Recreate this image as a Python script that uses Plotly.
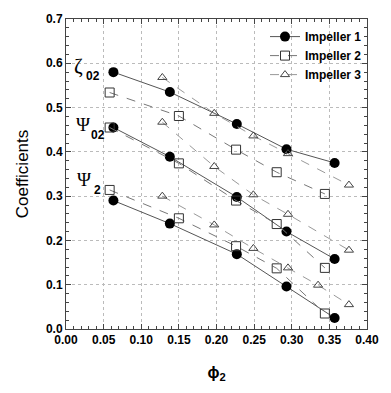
import plotly.graph_objects as go

# ---- data ----
phi_imp1 = [0.063, 0.138, 0.227, 0.293, 0.357]
zeta02_imp1 = [0.580, 0.535, 0.463, 0.406, 0.375]
psi02_imp1 = [0.455, 0.389, 0.298, 0.220, 0.158]
psi2_imp1 = [0.290, 0.238, 0.169, 0.096, 0.025]

phi_imp2 = [0.058, 0.150, 0.226, 0.280, 0.344]
zeta02_imp2 = [0.534, 0.481, 0.405, 0.354, 0.305]
psi02_imp2 = [0.455, 0.374, 0.290, 0.237, 0.138]
psi2_imp2 = [0.314, 0.250, 0.187, 0.137, 0.035]

phi_imp3 = [0.128, 0.197, 0.249, 0.295, 0.376]
zeta02_imp3 = [0.568, 0.487, 0.436, 0.396, 0.325]
psi02_imp3 = [0.467, 0.367, 0.303, 0.259, 0.178]
phi_imp3_psi2 = [0.128, 0.197, 0.249, 0.295, 0.335, 0.376]
psi2_imp3 = [0.300, 0.235, 0.182, 0.138, 0.099, 0.055]

series_names = ["Impeller 1", "Impeller 2", "Impeller 3"]
x_ticks = [0.00, 0.05, 0.10, 0.15, 0.20, 0.25, 0.30, 0.35, 0.40]
y_ticks = [0.0, 0.1, 0.2, 0.3, 0.4, 0.5, 0.6, 0.7]

impellers = [
    (series_names[0], [(phi_imp1, zeta02_imp1), (phi_imp1, psi02_imp1), (phi_imp1, psi2_imp1)],
     dict(symbol="circle", size=10, color="black"), dict(color="#555555", width=1, dash="solid")),
    (series_names[1], [(phi_imp2, zeta02_imp2), (phi_imp2, psi02_imp2), (phi_imp2, psi2_imp2)],
     dict(symbol="square-open", size=9, color="#333333", line=dict(width=1)), dict(color="#777777", width=1, dash="dash")),
    (series_names[2], [(phi_imp3, zeta02_imp3), (phi_imp3, psi02_imp3), (phi_imp3_psi2, psi2_imp3)],
     dict(symbol="triangle-up-open", size=8, color="#444444", line=dict(width=1)), dict(color="#999999", width=1, dash="dash")),
]

fig = go.Figure()
for name, groups, marker, line in impellers:
    for i, (xs, ys) in enumerate(groups):
        fig.add_trace(go.Scatter(
            x=xs, y=ys, mode="lines+markers", name=name, legendgroup=name,
            showlegend=(i == 0), marker=marker, line=line,
        ))

font = "Liberation Sans, Arial, sans-serif"
annots = [
    dict(x=0.016, y=0.594, text="ζ", size=21),
    dict(x=0.036, y=0.572, text="02", size=12, bold=True),
    dict(x=0.022, y=0.462, text="Ψ", size=19),
    dict(x=0.043, y=0.438, text="02", size=12, bold=True),
    dict(x=0.024, y=0.338, text="Ψ", size=19),
    dict(x=0.042, y=0.313, text="2", size=12, bold=True),
]
for a in annots:
    t = f"<b>{a['text']}</b>" if a.get("bold") else a["text"]
    fig.add_annotation(x=a["x"], y=a["y"], text=t, showarrow=False, xref="x", yref="y",
                       font=dict(family="Liberation Serif, Times New Roman, serif" if not a.get("bold") else font,
                                 size=a["size"], color="black"))

axis_common = dict(
    showline=True, linecolor="#444444", linewidth=1, mirror="allticks",
    ticks="inside", ticklen=5, tickcolor="#444444",
    showgrid=True, gridcolor="#bbbbbb", griddash="dot", gridwidth=1,
    zeroline=False,
    tickfont=dict(family=font, size=12, color="black", weight="bold"),
)
fig.update_xaxes(range=[0.0, 0.40], tickvals=x_ticks, ticktext=[f"{v:.2f}" for v in x_ticks],
                 minor=dict(dtick=0.01, ticks="inside", ticklen=3, tickcolor="#444444", showgrid=False),
                 title=dict(text="<b>ϕ<sub>2</sub></b>", font=dict(family=font, size=16, color="black"), standoff=20),
                 **axis_common)
fig.update_yaxes(range=[0.0, 0.70], tickvals=y_ticks, ticktext=[f"{v:.1f}" for v in y_ticks],
                 minor=dict(dtick=0.02, ticks="inside", ticklen=3, tickcolor="#444444", showgrid=False),
                 title=dict(text="Coefficients", font=dict(family=font, size=17, color="black"), standoff=12),
                 **axis_common)

fig.update_layout(
    width=391, height=393,
    margin=dict(l=66, r=12, t=12, b=64),
    plot_bgcolor="white", paper_bgcolor="white",
    showlegend=True,
    legend=dict(x=1.0, y=0.99, xanchor="right", yanchor="top", bgcolor="rgba(0,0,0,0)",
                font=dict(family=font, size=12, color="black", weight="bold"),
                itemwidth=30, tracegroupgap=0),
)

fig.write_html("out.html")
